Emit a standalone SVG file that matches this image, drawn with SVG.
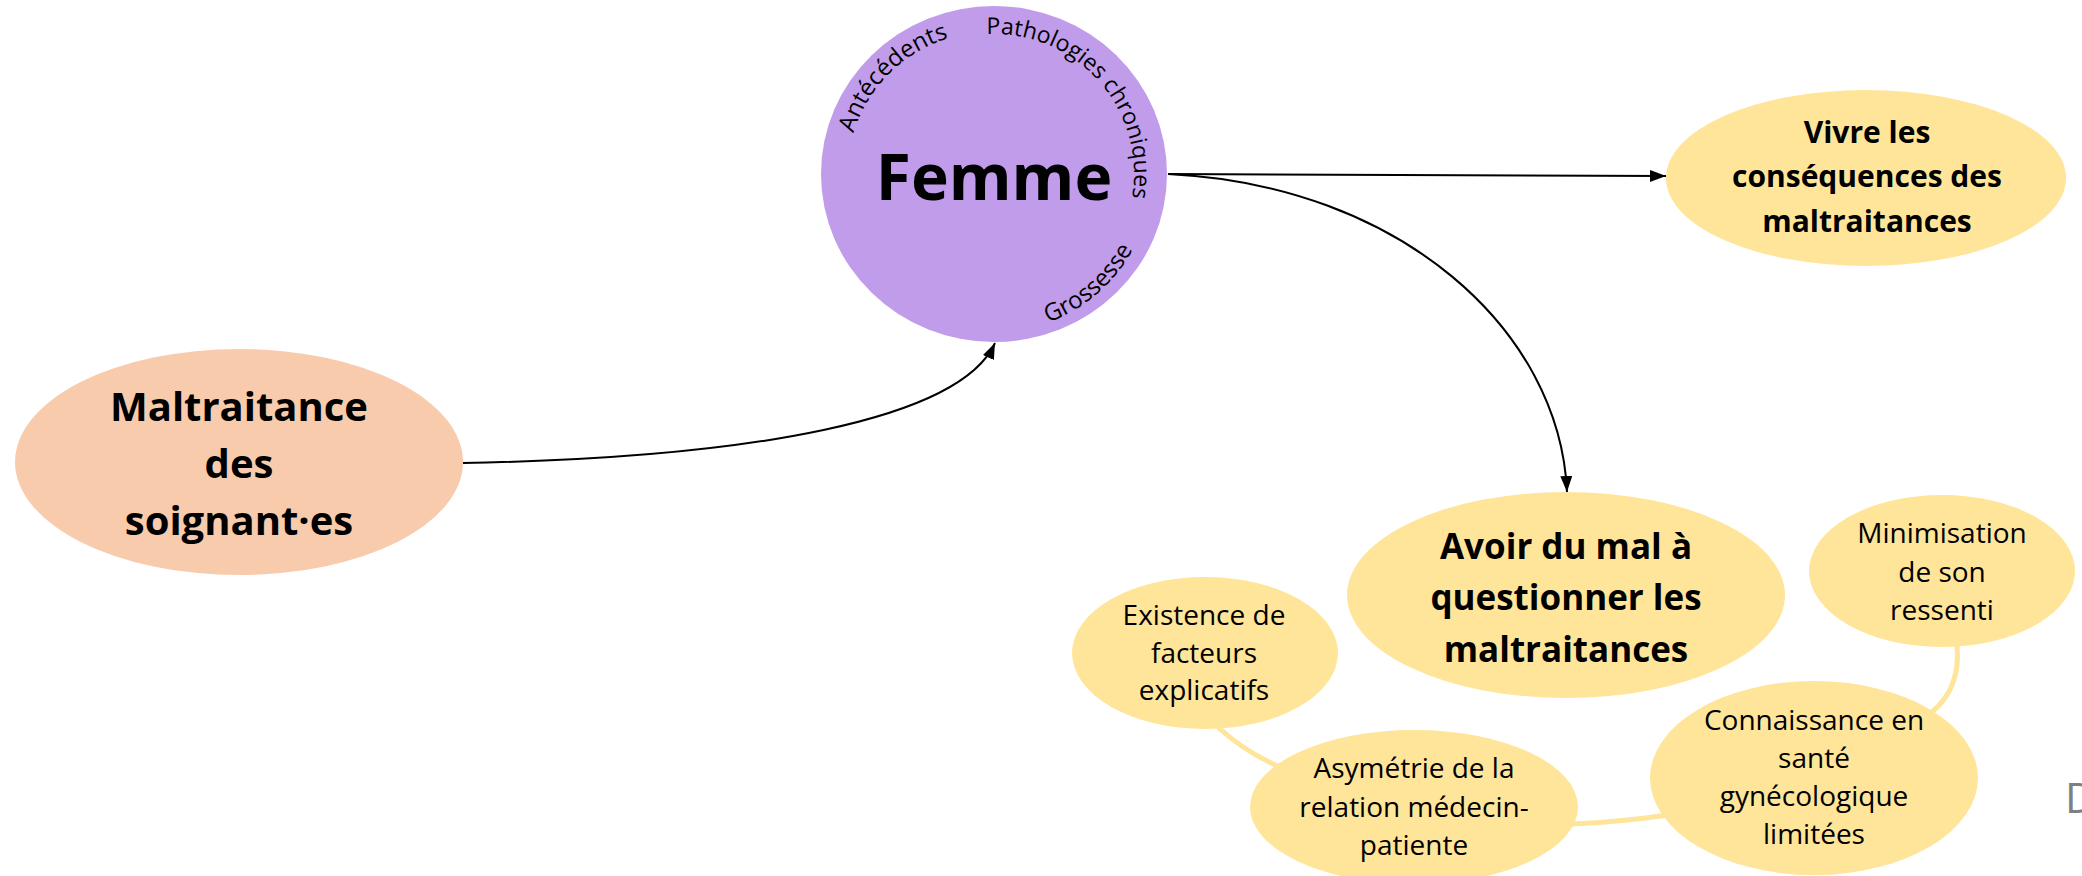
<svg xmlns="http://www.w3.org/2000/svg" width="2082" height="876" viewBox="0 0 2082 876">
<style>
text{font-family:"Open Sans","Noto Sans","Liberation Sans",sans-serif;fill:#000;text-anchor:middle}
.b{font-weight:bold}
.s{font-size:28px}
.arc{font-size:24px;text-anchor:start}
.conn{fill:none;stroke:#000;stroke-width:2}
.soft{fill:none;stroke:#FFE599;stroke-width:5;stroke-linecap:round}
.yel{fill:#FFE599}
</style>
<defs>
<marker id="ah" markerUnits="userSpaceOnUse" markerWidth="16" markerHeight="12" refX="16" refY="6" orient="auto">
<path d="M0,0 L16,6 L0,12 z" fill="#000"/>
</marker>
<path id="pA" d="M853.5,133.2 A142,142 0 0 1 986.6,32.2"/>
<path id="pP" d="M986.7,34.2 A140,140 0 0 1 1131.9,198.3"/>
<path id="pG" d="M1048,322.5 A158,158 0 0 0 1148.9,205.4"/>
</defs>

<g id="connectors">
<path class="conn" d="M463,463 C750,458 960,420 995,343" marker-end="url(#ah)"/>
<path class="conn" d="M1168,174 L1666,176" marker-end="url(#ah)"/>
<path class="conn" d="M1168,174 C1400,185 1560,330 1567,492" marker-end="url(#ah)"/>
<path class="soft" d="M1219,728 Q1245,752 1280,767"/>
<path class="soft" d="M1572,824 Q1620,822 1668,815"/>
<path class="soft" d="M1957,645 Q1961,688 1932,712"/>
</g>

<g id="maltraitance">
<ellipse cx="239" cy="462" rx="224" ry="113" fill="#F8CBAD"/>
<text class="b" font-size="40"><tspan x="239" y="421">Maltraitance</tspan><tspan x="239" y="478">des</tspan><tspan x="239" y="535">soignant·es</tspan></text>
</g>

<g id="femme">
<ellipse cx="994" cy="174" rx="173" ry="168" fill="#C19CEA"/>
<text class="b" x="994" y="200" font-size="64">Femme</text>
<text class="arc"><textPath href="#pA">Antécédents</textPath></text>
<text class="arc" style="font-size:23px"><textPath href="#pP">Pathologies chroniques</textPath></text>
<text class="arc"><textPath href="#pG">Grossesse</textPath></text>
</g>

<g id="vivre">
<ellipse class="yel" cx="1866" cy="178" rx="200" ry="88"/>
<text class="b" font-size="30"><tspan x="1867" y="143">Vivre les</tspan><tspan x="1867" y="187">conséquences des</tspan><tspan x="1867" y="232">maltraitances</tspan></text>
</g>

<g id="avoir">
<ellipse class="yel" cx="1566" cy="595" rx="219" ry="103"/>
<text class="b" font-size="35"><tspan x="1566" y="559">Avoir du mal à</tspan><tspan x="1566" y="610">questionner les</tspan><tspan x="1566" y="662">maltraitances</tspan></text>
</g>

<g id="existence">
<ellipse class="yel" cx="1205" cy="653" rx="133" ry="76"/>
<text class="s"><tspan x="1204" y="625">Existence de</tspan><tspan x="1204" y="663">facteurs</tspan><tspan x="1204" y="700">explicatifs</tspan></text>
</g>

<g id="minimisation">
<ellipse class="yel" cx="1942" cy="571" rx="133" ry="76"/>
<text class="s"><tspan x="1942" y="543">Minimisation</tspan><tspan x="1942" y="582">de son</tspan><tspan x="1942" y="620">ressenti</tspan></text>
</g>

<g id="asymetrie">
<ellipse class="yel" cx="1414" cy="807" rx="164" ry="77"/>
<text class="s"><tspan x="1414" y="778">Asymétrie de la</tspan><tspan x="1414" y="817">relation médecin-</tspan><tspan x="1414" y="855">patiente</tspan></text>
</g>

<g id="connaissance">
<ellipse class="yel" cx="1814" cy="778" rx="164" ry="97"/>
<text class="s"><tspan x="1814" y="730">Connaissance en</tspan><tspan x="1814" y="768">santé</tspan><tspan x="1814" y="806">gynécologique</tspan><tspan x="1814" y="844">limitées</tspan></text>
</g>

<g id="edge-text">
<text x="2065" y="813" font-size="42" style="text-anchor:start;fill:#7F7F7F">D</text>
</g>
</svg>
